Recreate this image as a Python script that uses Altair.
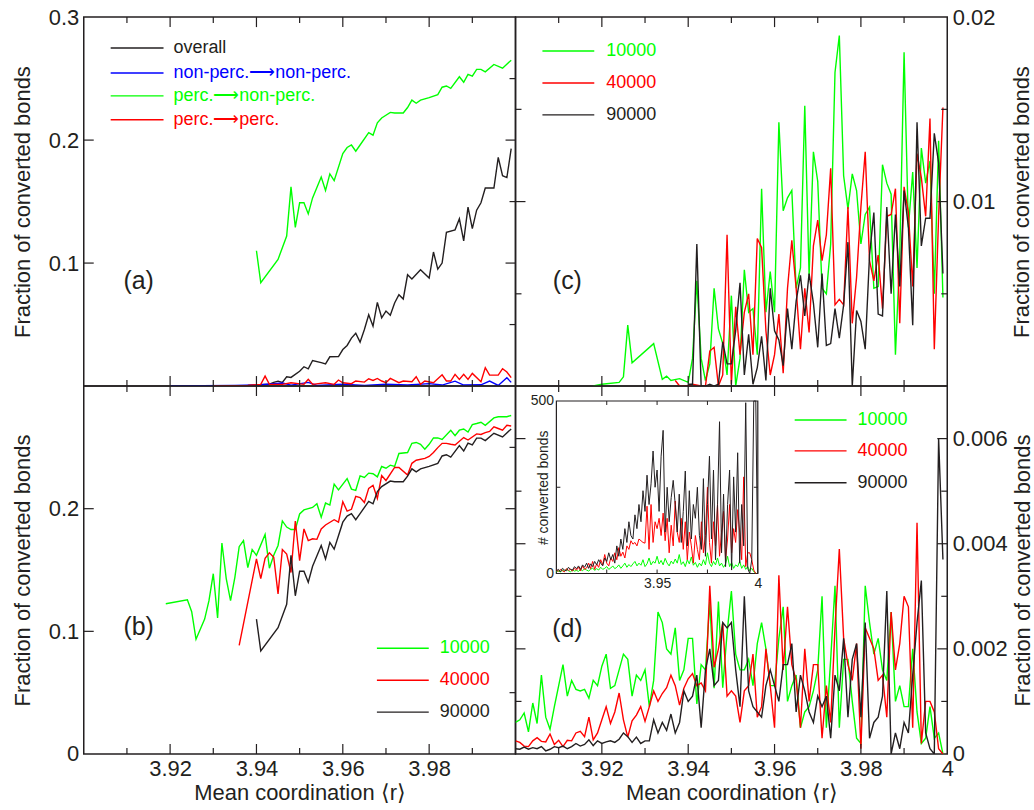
import altair as alt
import pandas as pd

# ------------------------------------------------------------------ data
X_DOMAIN = [3.90, 4.00]
Y_DOMAIN_A = [0.0, 0.3]
Y_DOMAIN_B = [0.0, 0.3]
Y_DOMAIN_C = [0.0, 0.02]
Y_DOMAIN_D = [0.0, 0.007]
Y_DOMAIN_INSET = [0, 500]

X_LABELS_B = [3.92, 3.94, 3.96, 3.98]
X_LABELS_D = [3.92, 3.94, 3.96, 3.98, 4.0]
X_MAJOR = [3.92, 3.94, 3.96, 3.98]
X_MINOR = [3.91, 3.93, 3.95, 3.97, 3.99]
Y_LABELS_A = [0.1, 0.2, 0.3]
Y_LABELS_B = [0.0, 0.1, 0.2]
Y_MAJOR_AB = [0.1, 0.2]
Y_MINOR_AB = [0.05, 0.15, 0.25]
Y_LABELS_C = [0.01, 0.02]
Y_MAJOR_C = [0.01]
Y_MINOR_C = [0.005, 0.015]
Y_LABELS_D = [0.0, 0.002, 0.004, 0.006]
Y_MAJOR_D = [0.002, 0.004, 0.006]
Y_MINOR_D = [0.001, 0.003, 0.005]
INSET_X_LABELS = [3.95, 4.0]
INSET_Y_LABELS = [0, 500]
INSET_X_TICKS = [3.925, 3.95, 3.975]
INSET_Y_TICKS = [250]

LEGEND_A = ["overall", "non-perc.\u27f6non-perc.", "perc.\u27f6non-perc.", "perc.\u27f6perc."]
LEGEND_N = ["10000", "40000", "90000"]
Y_TITLE = "Fraction of converted bonds"
X_TITLE = "Mean coordination \u27e8r\u27e9"
INSET_Y_TITLE = "# converted bonds"

# panel (a)
A_OVERALL = [(3.920, 0.0), (3.930, 0.0003), (3.938, 0.0005), (3.941, 0.001), (3.943, 0.0015),
             (3.944, 0.0030), (3.945, 0.004), (3.946, 0.003), (3.947, 0.0075), (3.948, 0.007),
             (3.950, 0.012), (3.951, 0.0157), (3.952, 0.014), (3.953, 0.0208), (3.955, 0.019),
             (3.956, 0.018), (3.957, 0.0238), (3.959, 0.024), (3.960, 0.0297), (3.961, 0.033),
             (3.962, 0.039), (3.963, 0.043), (3.964, 0.0357), (3.965, 0.046), (3.966, 0.058),
             (3.967, 0.0487), (3.968, 0.068), (3.969, 0.0555), (3.970, 0.061), (3.971, 0.0575),
             (3.972, 0.0675), (3.973, 0.0743), (3.974, 0.0708), (3.975, 0.0905), (3.976, 0.087),
             (3.978, 0.0946), (3.980, 0.0878), (3.981, 0.109), (3.982, 0.095), (3.983, 0.100),
             (3.984, 0.125), (3.986, 0.127), (3.987, 0.136), (3.988, 0.118), (3.989, 0.1455),
             (3.990, 0.128), (3.991, 0.143), (3.992, 0.149), (3.993, 0.161), (3.995, 0.161),
             (3.996, 0.186), (3.997, 0.171), (3.998, 0.1695), (3.999, 0.193)]
A_NONPERC = [(3.920, 0.0), (3.935, 0.0005), (3.941, 0.001), (3.946, 0.0025), (3.948, 0.0008),
             (3.952, 0.0030), (3.954, 0.0005), (3.960, 0.0015), (3.965, 0.0005), (3.970, 0.0015),
             (3.975, 0.0008), (3.980, 0.0020), (3.983, 0.0008), (3.986, 0.0040), (3.988, 0.0008),
             (3.992, 0.0010), (3.994, 0.0040), (3.996, 0.0005), (3.998, 0.0068), (3.999, 0.0030)]
A_PERC = [(3.930, 0.0), (3.938, 0.0005), (3.941, 0.0014), (3.942, 0.0081), (3.943, 0.0014),
          (3.946, 0.0014), (3.948, 0.0027), (3.951, 0.0014), (3.952, 0.0054), (3.953, 0.0014),
          (3.956, 0.0027), (3.958, 0.0014), (3.959, 0.0049), (3.960, 0.0027), (3.962, 0.0019),
          (3.963, 0.0041), (3.965, 0.0032), (3.966, 0.0059), (3.967, 0.0046), (3.968, 0.0062),
          (3.969, 0.0041), (3.970, 0.0027), (3.971, 0.0062), (3.973, 0.0027), (3.974, 0.0041),
          (3.976, 0.0035), (3.977, 0.0076), (3.978, 0.0014), (3.979, 0.0041), (3.981, 0.0027),
          (3.983, 0.0092), (3.984, 0.0041), (3.985, 0.0041), (3.986, 0.0095), (3.987, 0.0054),
          (3.988, 0.0095), (3.989, 0.0054), (3.990, 0.0103), (3.992, 0.0035), (3.993, 0.0149),
          (3.994, 0.0089), (3.995, 0.0089), (3.996, 0.0089), (3.997, 0.0141), (3.998, 0.0114),
          (3.999, 0.0068)]

# panel (b) (the 90000 curve is also perc.->non-perc. in panel (a))
B_10000 = [(3.919, 0.1225), (3.924, 0.1257), (3.925, 0.116), (3.926, 0.0935), (3.928, 0.110),
           (3.929, 0.125), (3.930, 0.147), (3.931, 0.111), (3.932, 0.172), (3.933, 0.143),
           (3.934, 0.125), (3.935, 0.144), (3.936, 0.169), (3.937, 0.174), (3.938, 0.152),
           (3.939, 0.1667), (3.940, 0.162), (3.942, 0.179), (3.943, 0.1515), (3.944, 0.162),
           (3.945, 0.170), (3.946, 0.190), (3.947, 0.185), (3.948, 0.183), (3.949, 0.183),
           (3.950, 0.1957), (3.951, 0.199), (3.953, 0.201), (3.954, 0.204), (3.955, 0.193),
           (3.956, 0.2046), (3.957, 0.203), (3.958, 0.220), (3.959, 0.2154), (3.961, 0.2246),
           (3.962, 0.216), (3.963, 0.215), (3.964, 0.2268), (3.965, 0.2255), (3.966, 0.229),
           (3.967, 0.2285), (3.968, 0.226), (3.969, 0.2344), (3.970, 0.233), (3.971, 0.2355),
           (3.972, 0.2345), (3.973, 0.245), (3.975, 0.2458), (3.976, 0.2533), (3.977, 0.254),
           (3.978, 0.2525), (3.979, 0.2485), (3.980, 0.2525), (3.981, 0.2577), (3.982, 0.2577),
           (3.983, 0.2565), (3.985, 0.264), (3.986, 0.2595), (3.987, 0.264), (3.988, 0.265),
           (3.989, 0.2625), (3.990, 0.2686), (3.991, 0.2695), (3.992, 0.2705), (3.993, 0.268),
           (3.995, 0.274), (3.996, 0.275), (3.998, 0.275), (3.999, 0.276)]
B_40000 = [(3.936, 0.0886), (3.940, 0.159), (3.941, 0.143), (3.942, 0.1596), (3.943, 0.164),
           (3.944, 0.1604), (3.945, 0.1306), (3.946, 0.1667), (3.947, 0.163), (3.948, 0.148),
           (3.949, 0.190), (3.950, 0.1577), (3.951, 0.1835), (3.952, 0.174), (3.953, 0.1755),
           (3.954, 0.175), (3.955, 0.1835), (3.956, 0.1867), (3.958, 0.191), (3.959, 0.189),
           (3.960, 0.2057), (3.961, 0.198), (3.962, 0.1995), (3.963, 0.210), (3.964, 0.209),
           (3.965, 0.205), (3.966, 0.2166), (3.967, 0.219), (3.968, 0.2084), (3.969, 0.227),
           (3.970, 0.223), (3.972, 0.2336), (3.973, 0.2336), (3.975, 0.2274), (3.976, 0.237),
           (3.977, 0.2395), (3.979, 0.241), (3.980, 0.2426), (3.981, 0.2458), (3.982, 0.2498),
           (3.983, 0.2533), (3.984, 0.2533), (3.985, 0.2525), (3.986, 0.252), (3.988, 0.258),
           (3.989, 0.256), (3.991, 0.261), (3.992, 0.2605), (3.993, 0.262), (3.994, 0.263),
           (3.995, 0.2667), (3.996, 0.2654), (3.997, 0.264), (3.998, 0.268), (3.999, 0.2674)]
B_90000 = [(3.940, 0.110), (3.941, 0.084), (3.945, 0.103), (3.947, 0.122), (3.948, 0.162),
           (3.949, 0.129), (3.950, 0.149), (3.951, 0.149), (3.952, 0.140), (3.953, 0.153),
           (3.955, 0.170), (3.956, 0.159), (3.957, 0.1725), (3.958, 0.167), (3.960, 0.189),
           (3.961, 0.194), (3.962, 0.196), (3.963, 0.191), (3.964, 0.196), (3.966, 0.206),
           (3.967, 0.204), (3.968, 0.214), (3.969, 0.218), (3.971, 0.2225), (3.972, 0.222),
           (3.974, 0.222), (3.975, 0.2265), (3.976, 0.2325), (3.977, 0.230), (3.978, 0.2325),
           (3.980, 0.2345), (3.982, 0.237), (3.983, 0.243), (3.984, 0.244), (3.985, 0.242),
           (3.987, 0.2515), (3.988, 0.247), (3.989, 0.2535), (3.990, 0.252), (3.991, 0.2575),
           (3.992, 0.2575), (3.993, 0.2555), (3.995, 0.2615), (3.997, 0.2585), (3.999, 0.265)]

# panel (c)
C_10000 = [(3.918, 0.0), (3.920, 0.0001), (3.924, 0.0002), (3.925, 0.0005), (3.926, 0.0033),
           (3.927, 0.00126), (3.932, 0.0023), (3.934, 0.00036), (3.935, 0.00054), (3.936, 0.0003),
           (3.938, 0.0004), (3.940, 0.0002), (3.941, 0.0015), (3.942, 0.0057), (3.943, 0.0015),
           (3.944, 0.0003), (3.945, 0.0012), (3.946, 0.0053), (3.947, 0.0031), (3.948, 0.0023),
           (3.949, 0.0006), (3.950, 0.0049), (3.951, 0.0), (3.952, 0.0015), (3.953, 0.0063),
           (3.954, 0.0040), (3.955, 0.0042), (3.956, 0.0017), (3.957, 0.0107), (3.958, 0.0040),
           (3.959, 0.0062), (3.960, 0.0040), (3.961, 0.0143), (3.962, 0.0095), (3.963, 0.0102),
           (3.964, 0.0106), (3.965, 0.0053), (3.966, 0.0064), (3.967, 0.0152), (3.968, 0.0060),
           (3.969, 0.0127), (3.970, 0.0111), (3.971, 0.0053), (3.972, 0.0050), (3.973, 0.0077),
           (3.974, 0.0170), (3.975, 0.0190), (3.976, 0.0114), (3.977, 0.0096), (3.978, 0.0115),
           (3.979, 0.0106), (3.980, 0.0077), (3.981, 0.0093), (3.982, 0.0097), (3.983, 0.0053),
           (3.984, 0.0054), (3.985, 0.0120), (3.986, 0.0110), (3.987, 0.0104), (3.988, 0.0017),
           (3.989, 0.0071), (3.990, 0.0181), (3.991, 0.0086), (3.992, 0.0116), (3.993, 0.0064),
           (3.994, 0.0129), (3.995, 0.0110), (3.996, 0.0122), (3.997, 0.0050), (3.998, 0.0133),
           (3.999, 0.0048)]
C_40000 = [(3.937, 0.0003), (3.938, 0.0), (3.940, 0.0), (3.941, 0.0001), (3.943, 0.0),
           (3.944, 0.0), (3.945, 0.0019), (3.946, 0.0021), (3.947, 0.0), (3.948, 0.0006),
           (3.949, 0.0082), (3.950, 0.0001), (3.951, 0.0043), (3.952, 0.0017), (3.953, 0.0040),
           (3.954, 0.0050), (3.955, 0.0017), (3.956, 0.0080), (3.957, 0.0075), (3.958, 0.0030),
           (3.959, 0.0006), (3.960, 0.0017), (3.961, 0.0039), (3.962, 0.0007), (3.963, 0.0053),
           (3.964, 0.0079), (3.965, 0.0053), (3.966, 0.0020), (3.967, 0.0053), (3.968, 0.0029),
           (3.969, 0.0076), (3.970, 0.0090), (3.971, 0.0068), (3.972, 0.0082), (3.973, 0.0118),
           (3.974, 0.0044), (3.975, 0.0047), (3.976, 0.0044), (3.977, 0.0097), (3.978, 0.0034),
           (3.979, 0.0059), (3.980, 0.0097), (3.981, 0.0127), (3.982, 0.0068), (3.983, 0.0057),
           (3.984, 0.0071), (3.985, 0.0042), (3.986, 0.0092), (3.987, 0.0093), (3.988, 0.0107),
           (3.989, 0.0034), (3.990, 0.0108), (3.991, 0.0094), (3.992, 0.0054), (3.993, 0.0126),
           (3.994, 0.0113), (3.995, 0.0092), (3.996, 0.0145), (3.997, 0.0020), (3.998, 0.0092),
           (3.999, 0.0151)]
C_90000 = [(3.940, 0.0001), (3.941, 0.0001), (3.942, 0.0077), (3.943, 0.0), (3.944, 0.0),
           (3.945, 0.0001), (3.946, 0.0), (3.947, 0.0001), (3.948, 0.0024), (3.949, 0.0012),
           (3.950, 0.0012), (3.951, 0.0030), (3.952, 0.0056), (3.953, 0.0006), (3.954, 0.0028),
           (3.955, 0.0001), (3.956, 0.0010), (3.957, 0.0027), (3.958, 0.0003), (3.959, 0.0053),
           (3.960, 0.0030), (3.961, 0.0025), (3.962, 0.0011), (3.963, 0.0042), (3.964, 0.0020),
           (3.965, 0.0046), (3.966, 0.0060), (3.967, 0.0038), (3.968, 0.0061), (3.969, 0.0045),
           (3.970, 0.0021), (3.971, 0.0061), (3.972, 0.0022), (3.973, 0.0023), (3.974, 0.0042),
           (3.975, 0.0026), (3.976, 0.0044), (3.977, 0.0078), (3.978, 0.0), (3.979, 0.0041),
           (3.980, 0.0035), (3.981, 0.0020), (3.982, 0.0071), (3.983, 0.0094), (3.984, 0.0039),
           (3.985, 0.0038), (3.986, 0.0097), (3.987, 0.0050), (3.988, 0.0093), (3.989, 0.0054),
           (3.990, 0.0106), (3.991, 0.0086), (3.992, 0.0033), (3.993, 0.0143), (3.994, 0.0076),
           (3.995, 0.0091), (3.996, 0.0091), (3.997, 0.0137), (3.998, 0.0121), (3.999, 0.0061)]

# panel (d): one value per 0.001 step of <r>, from 3.900
D_10000 = [0.00060, 0.00065, 0.00078, 0.00042, 0.00097, 0.00058, 0.00150, 0.00070, 0.00047, 0.00090,
           0.00130, 0.00170, 0.00110, 0.00140, 0.00123, 0.00120, 0.00123, 0.00106, 0.00140, 0.00130,
           0.00167, 0.00190, 0.00125, 0.00130, 0.00160, 0.00190, 0.00180, 0.00110, 0.00150, 0.00140,
           0.00160, 0.00090, 0.00140, 0.00270, 0.00250, 0.00200, 0.00190, 0.00240, 0.00140, 0.00160,
           0.00220, 0.00220, 0.00095, 0.00170, 0.00160, 0.00290, 0.00125, 0.00290, 0.00126, 0.00230,
           0.00310, 0.00190, 0.00160, 0.00160, 0.00180, 0.00130, 0.00210, 0.00250, 0.00200, 0.00130,
           0.00130, 0.00220, 0.00280, 0.00100, 0.00130, 0.00150, 0.00050, 0.00080, 0.00090, 0.00120,
           0.00160, 0.00300, 0.00050, 0.00180, 0.00320, 0.00050, 0.00180, 0.00180, 0.00100, 0.00030,
           0.00020, 0.00320, 0.00250, 0.00190, 0.00220, 0.00160, 0.00140, 0.00270, 0.00100, 0.00130,
           0.00090, 0.00090, 0.00200, 0.00080, 0.00020, 0.00030, 0.00090, 0.00030, 0.00040, 0.00000]
D_40000 = [0.00025, 0.00022, 0.00015, 0.00014, 0.00025, 0.00031, 0.00024, 0.00023, 0.00038, 0.00018,
           0.00026, 0.00014, 0.00026, 0.00025, 0.00040, 0.00043, 0.00033, 0.00070, 0.00027, 0.00040,
           0.00065, 0.00090, 0.00058, 0.00080, 0.00116, 0.00065, 0.00032, 0.00063, 0.00074, 0.00090,
           0.00062, 0.00090, 0.00120, 0.00100, 0.00115, 0.00126, 0.00150, 0.00130, 0.00093, 0.00125,
           0.00143, 0.00153, 0.00130, 0.00135, 0.00120, 0.00320, 0.00165, 0.00200, 0.00250, 0.00110,
           0.00120, 0.00110, 0.00060, 0.00120, 0.00130, 0.00190, 0.00070, 0.00090, 0.00200, 0.00130,
           0.00050, 0.00340, 0.00160, 0.00280, 0.00170, 0.00140, 0.00050, 0.00200, 0.00100, 0.00170,
           0.00170, 0.00030, 0.00130, 0.00060, 0.00240, 0.00390, 0.00220, 0.00170, 0.00140, 0.00210,
           0.00010, 0.00240, 0.00220, 0.00200, 0.00140, 0.00150, 0.00070, 0.00270, 0.00160, 0.00210,
           0.00300, 0.00280, 0.00050, 0.00440, 0.00020, 0.00100, 0.00100, 0.00080, 0.00010, 0.00000]
D_90000 = [0.00010, 0.00009, 0.00013, 0.00009, 0.00012, 0.00010, 0.00014, 0.00006, 0.00009, 0.00014,
           0.00012, 0.00015, 0.00010, 0.00014, 0.00020, 0.00015, 0.00018, 0.00027, 0.00016, 0.00025,
           0.00020, 0.00023, 0.00025, 0.00022, 0.00028, 0.00040, 0.00033, 0.00022, 0.00032, 0.00020,
           0.00025, 0.00025, 0.00065, 0.00040, 0.00060, 0.00045, 0.00076, 0.00040, 0.00060, 0.00120,
           0.00100, 0.00110, 0.00150, 0.00050, 0.00160, 0.00200, 0.00130, 0.00140, 0.00250, 0.00240,
           0.00250, 0.00160, 0.00090, 0.00300, 0.00120, 0.00090, 0.00080, 0.00070, 0.00130, 0.00160,
           0.00130, 0.00100, 0.00170, 0.00170, 0.00210, 0.00080, 0.00150, 0.00120, 0.00080, 0.00060,
           0.00110, 0.00090, 0.00110, 0.00030, 0.00150, 0.00120, 0.00220, 0.00070, 0.00180, 0.00210,
           0.00070, 0.00250, 0.00030, 0.00060, 0.00070, 0.00110, 0.00310, 0.00000, 0.00040, 0.00010,
           0.00060, 0.00040, 0.00150, 0.00250, 0.00330, 0.00040, 0.00010, 0.00000, 0.00600, 0.00370]

# inset of (d): number of converted bonds, one value per 0.001 step from 3.900
IN_10000 = [5, 8, 4, 10, 6, 12, 8, 5, 10, 7,
            9, 6, 12, 8, 14, 10, 7, 12, 16, 9,
            14, 10, 18, 12, 15, 20, 12, 16, 22, 14,
            18, 25, 15, 22, 30, 18, 26, 20, 28, 35,
            22, 30, 24, 40, 20, 28, 45, 25, 35, 30,
            50, 28, 38, 25, 44, 30, 22, 36, 28, 42,
            30, 55, 26, 34, 20, 40, 28, 48, 24, 32,
            18, 30, 22, 40, 25, 60, 30, 20, 35, 25,
            45, 22, 30, 18, 28, 50, 20, 32, 15, 25,
            20, 35, 15, 25, 12, 20, 8, 15, 5, 2]
IN_40000 = [10, 6, 12, 8, 5, 14, 9, 12, 7, 15,
            10, 18, 8, 22, 12, 16, 30, 14, 35, 12,
            28, 18, 40, 25, 55, 30, 22, 45, 35, 60,
            40, 75, 50, 62, 45, 80, 70, 95, 85, 90,
            80, 100, 95, 90, 88, 195, 70, 200, 90, 150,
            130, 160, 110, 175, 95, 160, 60, 140, 80, 210,
            120, 90, 160, 70, 150, 40, 120, 80, 30, 110,
            70, 40, 150, 60, 110, 250, 90, 30, 150, 80,
            200, 50, 120, 180, 40, 100, 200, 60, 130, 90,
            185, 120, 40, 280, 20, 60, 60, 40, 10, 0]
IN_90000 = [8, 12, 5, 15, 10, 8, 18, 12, 10, 20,
            14, 22, 12, 25, 18, 30, 15, 28, 20, 35,
            25, 40, 30, 22, 45, 35, 60, 40, 55, 30,
            80, 50, 100, 70, 130, 90, 150, 110, 100, 170,
            130, 200, 150, 240, 180, 285, 200, 260, 355, 250,
            300, 180, 340, 415, 120, 250, 150, 220, 270, 200,
            120, 230, 90, 180, 297, 80, 240, 100, 200, 160,
            250, 110, 70, 275, 50, 200, 340, 100, 300, 40,
            200, 440, 60, 230, 20, 200, 300, 10, 280, 120,
            350, 30, 200, 80, 495, 15, 0, 40, 1200, 1200, 0]


def grid(n, start=3.900):
    return [round(start + 0.001 * i, 3) for i in range(n)]


D_10000_P = list(zip(grid(len(D_10000)), D_10000))
D_40000_P = list(zip(grid(len(D_40000)), D_40000))
D_90000_P = list(zip(grid(len(D_90000)), D_90000))
IN_10000_P = list(zip(grid(len(IN_10000)), IN_10000))
IN_40000_P = list(zip(grid(len(IN_40000)), IN_40000))
IN_90000_P = list(zip(grid(len(IN_90000)), IN_90000))

# ------------------------------------------------------------------ style
W = 433
H_TOP = 370
H_BOT = 369
FONT = "Liberation Sans"
INK = "#231f20"
GREEN = "#00ff00"
RED = "#ff0000"
BLUE = "#0000ff"
BLACK = "#231f20"
LW = 1.4
TICK_MAJOR = 10
TICK_MINOR = 6

xs = alt.Scale(domain=X_DOMAIN, nice=False, zero=False)


def yscale(dom, **kw):
    return alt.Scale(domain=dom, nice=False, zero=False, **kw)


def series_frame(named):
    rows = []
    for k, (pairs, color) in enumerate(named):
        for x, y in pairs:
            rows.append({"x": x, "y": y, "c": color, "k": k})
    return pd.DataFrame(rows)


def lines(named, x_scale, y_scale, x_axis, y_axis, width=LW):
    return alt.Chart(series_frame(named)).mark_line(strokeWidth=width, clip=True).encode(
        x=alt.X("x:Q", scale=x_scale, axis=x_axis),
        y=alt.Y("y:Q", scale=y_scale, axis=y_axis),
        color=alt.Color("c:N", scale=None),
        detail="k:N",
    )


def xticks(vals, x_scale, y0, y1, width=1.2):
    return alt.Chart(pd.DataFrame({"v": vals})).mark_rule(color=INK, strokeWidth=width).encode(
        x=alt.X("v:Q", scale=x_scale, axis=None), y=alt.value(y0), y2=alt.value(y1))


def yticks(vals, y_scale, x0, x1, width=1.2):
    return alt.Chart(pd.DataFrame({"v": vals})).mark_rule(color=INK, strokeWidth=width).encode(
        y=alt.Y("v:Q", scale=y_scale, axis=None), x=alt.value(x0), x2=alt.value(x1))


def frame_ticks(y_scale, h, left_major, left_minor, right_major, right_minor):
    out = [
        xticks(X_MAJOR, xs, h, h - TICK_MAJOR),
        xticks(X_MINOR, xs, h, h - TICK_MINOR),
        xticks(X_MAJOR, xs, 0, TICK_MAJOR),
        xticks(X_MINOR, xs, 0, TICK_MINOR),
    ]
    if left_major:
        out.append(yticks(left_major, y_scale, 0, TICK_MAJOR))
    if left_minor:
        out.append(yticks(left_minor, y_scale, 0, TICK_MINOR))
    if right_major:
        out.append(yticks(right_major, y_scale, W, W - TICK_MAJOR))
    if right_minor:
        out.append(yticks(right_minor, y_scale, W, W - TICK_MINOR))
    return out


def legend(labels, colors, x0, x1, xt, ys):
    out = []
    for lab, col, y in zip(labels, colors, ys):
        d = pd.DataFrame({"t": [lab]})
        out.append(alt.Chart(d).mark_rule(color=col, strokeWidth=LW).encode(
            x=alt.value(x0), x2=alt.value(x1), y=alt.value(y)))
        out.append(alt.Chart(d).mark_text(color=col, align="left", baseline="middle",
                                          font=FONT, fontSize=18).encode(
            x=alt.value(xt), y=alt.value(y), text="t:N"))
    return out


def panel_label(text, x, y):
    return alt.Chart(pd.DataFrame({"t": [text]})).mark_text(
        color=INK, font=FONT, fontSize=25, align="center", baseline="middle").encode(
        x=alt.value(x), y=alt.value(y), text="t:N")


def left_axis(values):
    return alt.Axis(orient="left", values=values, format="~g", title=Y_TITLE,
                    labelPadding=5, titlePadding=14)


def right_axis(values, pad):
    return alt.Axis(orient="right", values=values, format="~g", title=Y_TITLE,
                    labelPadding=5, titlePadding=pad, titleAngle=270, titleBaseline="top")


def bottom_axis(values):
    return alt.Axis(orient="bottom", values=values, format="~g", title=X_TITLE,
                    labelPadding=5, titlePadding=3, labelFlush=False)


IND = dict(x="independent", y="independent")

# ------------------------------------------------------------------ panels
ys_a = yscale(Y_DOMAIN_A)
panel_a = alt.layer(
    lines([(A_OVERALL, BLACK), (A_NONPERC, BLUE), (B_90000, GREEN), (A_PERC, RED)],
          xs, ys_a, None, left_axis(Y_LABELS_A)),
    *frame_ticks(ys_a, H_TOP, Y_MAJOR_AB, [], Y_MAJOR_AB, Y_MINOR_AB),
    *legend(LEGEND_A, [BLACK, BLUE, GREEN, RED], 27, 80, 90, [31, 56, 79, 103]),
    panel_label("(a)", 55, 265),
).resolve_scale(**IND).properties(width=W, height=H_TOP)

ys_c = yscale(Y_DOMAIN_C)
panel_c = alt.layer(
    lines([(C_10000, GREEN), (C_40000, RED), (C_90000, BLACK)],
          xs, ys_c, None, right_axis(Y_LABELS_C, 17)),
    *frame_ticks(ys_c, H_TOP, Y_MAJOR_C, Y_MINOR_C, Y_MAJOR_C, Y_MINOR_C),
    *legend(LEGEND_N, [GREEN, RED, BLACK], 27, 79, 91, [34, 66, 98]),
    panel_label("(c)", 52, 265),
).resolve_scale(**IND).properties(width=W, height=H_TOP)

ys_b = yscale(Y_DOMAIN_B)
panel_b = alt.layer(
    lines([(B_10000, GREEN), (B_40000, RED), (B_90000, BLACK)],
          xs, ys_b, bottom_axis(X_LABELS_B), left_axis(Y_LABELS_B)),
    *frame_ticks(ys_b, H_BOT, Y_MAJOR_AB, [], Y_MAJOR_AB, Y_MINOR_AB),
    *legend(LEGEND_N, [GREEN, RED, BLACK], 294, 346, 357, [263, 295, 327]),
    panel_label("(b)", 55, 242),
).resolve_scale(**IND).properties(width=W, height=H_BOT)

ys_d = yscale(Y_DOMAIN_D)
xs_in = alt.Scale(domain=X_DOMAIN, range=[41, 243], nice=False, zero=False)
ys_in = alt.Scale(domain=Y_DOMAIN_INSET, range=[188, 15], nice=False, zero=False, clamp=True)

inset_frame = alt.Chart(pd.DataFrame({
    "x0": [X_DOMAIN[0]], "x1": [X_DOMAIN[1]],
    "y0": [Y_DOMAIN_INSET[0]], "y1": [Y_DOMAIN_INSET[1]]})).mark_rect(
    fill="white", stroke=INK, strokeWidth=1.2).encode(
    x=alt.X("x0:Q", scale=xs_in, axis=None), x2=alt.X2("x1"),
    y=alt.Y("y0:Q", scale=ys_in, axis=None), y2=alt.Y2("y1"))

inset_x_axis = alt.Axis(orient="bottom", offset=-181, values=INSET_X_LABELS, format="~g",
                        title=None, labelFontSize=14, labelPadding=3, labelFlush=False)
inset_y_axis = alt.Axis(orient="left", offset=-41, values=INSET_Y_LABELS, format="d",
                        title=INSET_Y_TITLE, labelFontSize=14, titleFontSize=14,
                        labelPadding=3, titleX=-6, titleY=101.5)

panel_d = alt.layer(
    lines([(D_10000_P, GREEN), (D_40000_P, RED), (D_90000_P, BLACK)],
          xs, ys_d, bottom_axis(X_LABELS_D), right_axis(Y_LABELS_D, 5)),
    *frame_ticks(ys_d, H_BOT, Y_MAJOR_D, Y_MINOR_D, Y_MAJOR_D, Y_MINOR_D),
    *legend(LEGEND_N, [GREEN, RED, BLACK], 280, 332, 343, [34, 65, 97]),
    panel_label("(d)", 52, 244),
    inset_frame,
    lines([(IN_10000_P, GREEN), (IN_40000_P, RED), (IN_90000_P, BLACK)],
          xs_in, ys_in, inset_x_axis, inset_y_axis, width=1.0),
    xticks(INSET_X_TICKS, xs_in, 188, 184, 1.0),
    xticks(INSET_X_TICKS, xs_in, 15, 19, 1.0),
    yticks(INSET_Y_TICKS, ys_in, 41, 45, 1.0),
    yticks(INSET_Y_TICKS, ys_in, 243, 239, 1.0),
).resolve_scale(**IND).properties(width=W, height=H_BOT)

chart = alt.concat(panel_a, panel_c, panel_b, panel_d, columns=2, spacing=0,
                   bounds="flush").properties(
    padding={"left": 10, "top": 4, "right": 0, "bottom": 0},
    background="white",
).configure_view(stroke=INK, strokeWidth=1.5).configure_axis(
    labelFont=FONT, titleFont=FONT, labelFontSize=22, titleFontSize=22,
    labelColor=INK, titleColor=INK, titleFontWeight="normal",
    grid=False, ticks=False, tickSize=0, domain=False, labelOverlap=False,
)

chart.save("out.html", embed_options={"renderer": "svg", "actions": False})
